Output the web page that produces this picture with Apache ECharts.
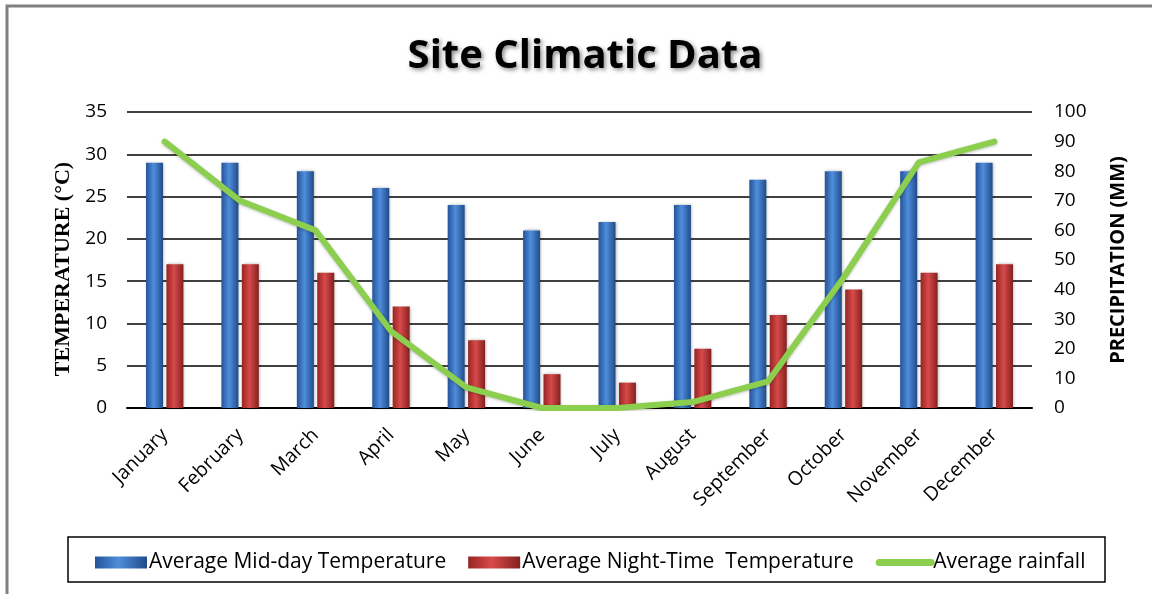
<!DOCTYPE html>
<html>
<head>
<meta charset="utf-8">
<script src="https://cdn.jsdelivr.net/npm/echarts@6/dist/echarts.min.js"></script>
<style>
html,body{margin:0;padding:0;background:#fff;}
#chart{width:1152px;height:594px;}
</style>
</head>
<body>
<div id="chart"></div>
<script>
const categories = ['January','February','March','April','May','June','July','August','September','October','November','December'];
const midday = [29,29,28,26,24,21,22,24,27,28,28,29];
const night = [17,17,16,12,8,4,3,7,11,14,16,17];
const rainfall = [90,70,60,26,7,0,0,2,9,44,83,90];
const seriesNames = ['Average Mid-day Temperature','Average Night-Time  Temperature','Average rainfall'];

const chart = echarts.init(document.getElementById('chart'));
const blueGrad = new echarts.graphic.LinearGradient(0,0,1,0,[
  {offset:0,color:'#25529a'},{offset:0.45,color:'#4f8edb'},{offset:1,color:'#214b8a'}]);
const redGrad = new echarts.graphic.LinearGradient(0,0,1,0,[
  {offset:0,color:'#962424'},{offset:0.45,color:'#d84a4a'},{offset:1,color:'#842020'}]);
const F = 'Open Sans';

const option = {
  animation:false,
  backgroundColor:'#fff',
  title:{
    text:'Site Climatic Data',
    left:580, top:32, textAlign:'center',
    textStyle:{fontFamily:F,fontWeight:'bold',fontSize:40,color:'#000',
      textShadowColor:'rgba(0,0,0,0.45)',textShadowBlur:4,textShadowOffsetX:2,textShadowOffsetY:2}
  },
  graphic:[
    {type:'rect',shape:{x:7,y:6,width:1170,height:620},style:{fill:'none',stroke:'#808080',lineWidth:3},silent:true},
    {type:'rect',shape:{x:68,y:537,width:1037,height:45},style:{fill:'none',stroke:'#000',lineWidth:1.5},silent:true}
  ],
  legend:{
    left:90, top:547,
    itemWidth:52, itemHeight:12, itemGap:22,
    textStyle:{fontFamily:F,fontSize:21,color:'#000',padding:[0,0,0,-3]},
    data:[
      {name:seriesNames[0],icon:'rect'},
      {name:seriesNames[1],icon:'rect'},
      {name:seriesNames[2],lineStyle:{width:7,cap:'round'},itemStyle:{opacity:0}}
    ]
  },
  grid:{left:127,right:120,top:112,bottom:186},
  xAxis:{
    type:'category', data:categories,
    axisLine:{lineStyle:{color:'#000',width:2}},
    axisTick:{show:false},
    axisLabel:{rotate:45,fontFamily:F,fontSize:19.5,color:'#000',margin:24,interval:0}
  },
  yAxis:[
    {type:'value',min:0,max:35,interval:5,position:'left',
     name:'TEMPERATURE (°C)',nameLocation:'middle',nameGap:52,nameRotate:90,
     nameTextStyle:{fontFamily:'Liberation Serif',fontWeight:'bold',fontSize:22,color:'#000',padding:[0,18,0,0]},
     axisLine:{show:false},axisTick:{show:false},
     axisLabel:{fontFamily:F,fontSize:19,color:'#000',margin:20},
     splitLine:{lineStyle:{color:'#000',width:1.5}}},
    {type:'value',min:0,max:100,interval:10,position:'right',
     name:'PRECIPITATION (MM)',nameLocation:'middle',nameGap:76,nameRotate:90,
     nameTextStyle:{fontFamily:F,fontWeight:'bold',fontSize:20,color:'#000'},
     axisLine:{show:false},axisTick:{show:false},
     axisLabel:{fontFamily:F,fontSize:19,color:'#000',margin:22},
     splitLine:{show:false}}
  ],
  series:[
    {name:seriesNames[0],type:'bar',data:midday,yAxisIndex:0,
     barWidth:17,barGap:'20%',
     itemStyle:{color:blueGrad,shadowColor:'rgba(0,0,0,0.3)',shadowBlur:3,shadowOffsetX:1}},
    {name:seriesNames[1],type:'bar',data:night,yAxisIndex:0,
     barWidth:17,barGap:'20%',
     itemStyle:{color:redGrad,shadowColor:'rgba(0,0,0,0.3)',shadowBlur:3,shadowOffsetX:1}},
    {name:seriesNames[2],type:'line',data:rainfall,yAxisIndex:1,
     showSymbol:false,symbol:'none',
     lineStyle:{color:'#8cce4e',width:6,cap:'round',join:'round',shadowColor:'rgba(0,0,0,0.25)',shadowBlur:3,shadowOffsetY:1},
     itemStyle:{color:'#8cce4e'}}
  ]
};
chart.setOption(option);
</script>
</body>
</html>
